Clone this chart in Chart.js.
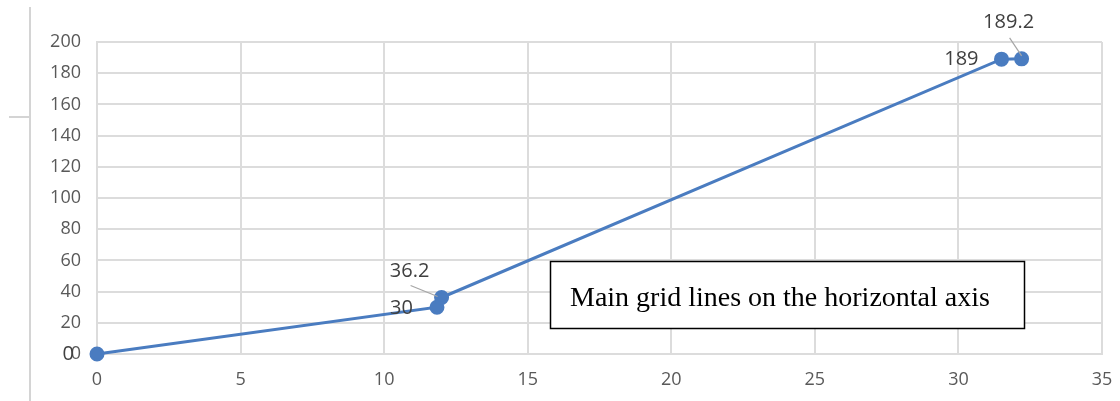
<!DOCTYPE html>
<html>
<head>
<meta charset="utf-8">
<script src="https://cdn.jsdelivr.net/npm/chart.js@4"></script>
<style>
html,body{margin:0;padding:0;background:#fff;}
#wrap{position:relative;width:1120px;height:401px;}
</style>
</head>
<body>
<div id="wrap"><canvas id="c" width="1120" height="401"></canvas></div>
<script>
const xValues = [0, 11.84, 12.0, 31.5, 32.2];
const yValues = [0, 30, 36.2, 189, 189.2];
const pointLabels = ["0", "30", "36.2", "189", "189.2"];
const xTicks = [0, 5, 10, 15, 20, 25, 30, 35];
const yTicks = [0, 20, 40, 60, 80, 100, 120, 140, 160, 180, 200];
const noteText = "Main grid lines on the horizontal axis";

const lineColor = "#4a7cc0";
const gridColor = "#dcdcdc";

const labelPlace = [
  {dx: -23, dy: 0, align: "right"},
  {dx: -24, dy: 1, align: "right"},
  {dx: -32, dy: -26, align: "center", leader: [-31, -12, -4, -1]},
  {dx: -23, dy: 0, align: "right"},
  {dx: -13, dy: -37, align: "center", leader: [-12, -21, 0, -3]}
];

const deco = {
  id: "deco",
  beforeDraw(chart) {
    const ctx = chart.ctx;
    ctx.save();
    ctx.fillStyle = "#fff";
    ctx.fillRect(0, 0, chart.width, chart.height);
    ctx.restore();
  },
  afterDraw(chart) {
    const ctx = chart.ctx;
    const xs = chart.scales.x, ys = chart.scales.y;
    ctx.save();
    ctx.strokeStyle = "#d4d4d4";
    ctx.lineWidth = 2;
    ctx.beginPath();
    ctx.moveTo(30, 7); ctx.lineTo(30, 401);
    ctx.moveTo(9, 117); ctx.lineTo(30, 117);
    ctx.stroke();

    ctx.font = "20px 'Open Sans'";
    ctx.fillStyle = "#404040";
    ctx.textBaseline = "middle";
    for (let i = 0; i < xValues.length; i++) {
      const px = xs.getPixelForValue(xValues[i]);
      const py = ys.getPixelForValue(yValues[i]);
      const p = labelPlace[i];
      ctx.textAlign = p.align;
      ctx.fillText(pointLabels[i], px + p.dx, py + p.dy);
      if (p.leader) {
        ctx.strokeStyle = "#a6a6a6";
        ctx.lineWidth = 1.2;
        ctx.beginPath();
        ctx.moveTo(px + p.leader[0], py + p.leader[1]);
        ctx.lineTo(px + p.leader[2], py + p.leader[3]);
        ctx.stroke();
      }
    }

    ctx.fillStyle = "#fff";
    ctx.fillRect(550, 261, 475, 68);
    ctx.strokeStyle = "#000";
    ctx.lineWidth = 1.5;
    ctx.strokeRect(550.5, 261.5, 474, 67);
    ctx.fillStyle = "#000";
    ctx.font = "28px 'Liberation Serif'";
    ctx.textAlign = "left";
    ctx.textBaseline = "alphabetic";
    ctx.fillText(noteText, 570, 306);
    ctx.restore();
  }
};

new Chart(document.getElementById("c"), {
  type: "scatter",
  data: {
    datasets: [{
      data: xValues.map((x, i) => ({x: x, y: yValues[i]})),
      showLine: true,
      clip: false,
      borderColor: lineColor,
      backgroundColor: lineColor,
      borderWidth: 3,
      pointRadius: 6,
      pointHoverRadius: 6,
      tension: 0
    }]
  },
  options: {
    responsive: false,
    animation: false,
    events: [],
    layout: {autoPadding: false, padding: {left: 0, right: 18, top: 42, bottom: 0}},
    plugins: {legend: {display: false}, tooltip: {enabled: false}},
    scales: {
      x: {
        type: "linear",
        min: 0, max: 35,
        afterBuildTicks(scale) { scale.ticks = xTicks.map(v => ({value: v})); },
        afterFit(scale) { scale.height = 47; scale.paddingRight = 0; scale.paddingLeft = 0; },
        grid: {color: gridColor, lineWidth: 2, drawTicks: false},
        border: {color: gridColor, width: 2},
        ticks: {color: "#595959", font: {family: "Open Sans", size: 18}, padding: 15, maxRotation: 0}
      },
      y: {
        min: 0, max: 200,
        afterBuildTicks(scale) { scale.ticks = yTicks.map(v => ({value: v})); },
        afterFit(scale) { scale.width = 97; scale.paddingTop = 0; scale.paddingBottom = 0; },
        grid: {color: gridColor, lineWidth: 2, drawTicks: false},
        border: {color: gridColor, width: 2},
        ticks: {color: "#595959", font: {family: "Open Sans", size: 18}, padding: 16}
      }
    }
  },
  plugins: [deco]
});
</script>
</body>
</html>
